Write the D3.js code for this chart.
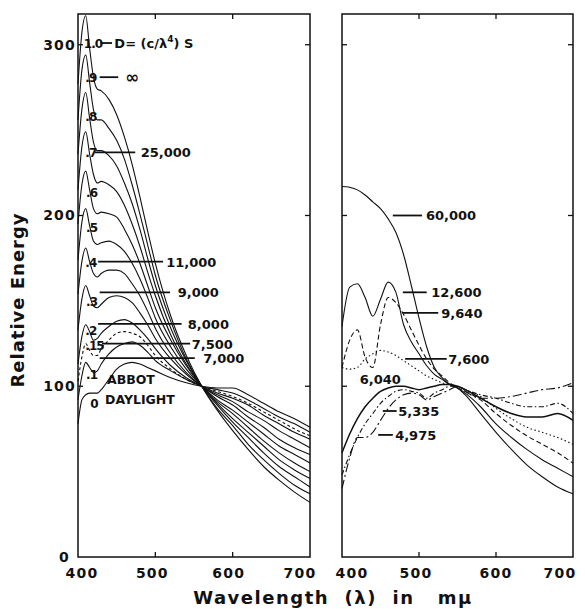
<!DOCTYPE html>
<html>
<head>
<meta charset="utf-8">
<script src="https://cdn.jsdelivr.net/npm/d3@7"></script>
<style>
  body { margin: 0; background: #fff; }
  text { font-family: "DejaVu Sans", sans-serif; font-weight: bold; fill: #111; }
</style>
</head>
<body>
<svg id="chart" width="585" height="609"></svg>
<script>
// wavelengths (m\u03bc) sampled for each panel
const wlLeft = [400, 405, 410, 415, 420, 425, 430, 440, 450, 460, 470, 480, 490, 500, 520, 540, 560, 580, 600, 620, 640, 660, 680, 700];
const wlRight = [400, 410, 420, 430, 440, 450, 460, 470, 480, 490, 500, 510, 520, 530, 540, 550, 560, 580, 600, 620, 640, 660, 680, 700];

// left panel: Abbot daylight mixed with D of (c/\u03bb^4)S
const d00 = [78, 92, 95, 96, 96, 96, 98, 104, 110, 113, 114, 113, 111, 109, 105, 102, 100, 99, 99, 95, 90, 85, 81, 76];
const d01 = [92, 106, 114, 111, 108, 109, 113, 119, 123, 125, 126, 124, 120, 115, 109, 104, 100, 98, 96, 92, 87, 82, 78, 73];
const d015 = [103, 117, 125, 121, 118, 118, 122, 127, 131, 132, 131, 129, 124, 118, 110, 104, 100, 97, 94, 90, 85, 80, 75, 71];
const d02 = [113, 129, 136, 132, 127, 128, 131, 135, 138, 139, 137, 133, 128, 122, 112, 105, 100, 96, 93, 89, 83, 78, 73, 69];
const d03 = [133, 151, 159, 153, 147, 146, 148, 152, 153, 152, 149, 143, 136, 128, 116, 107, 100, 95, 91, 85, 80, 74, 69, 64];
const d04 = [154, 173, 181, 173, 166, 164, 166, 168, 168, 166, 160, 153, 144, 134, 119, 108, 100, 94, 89, 82, 76, 69, 64, 60];
const d05 = [174, 196, 204, 194, 185, 183, 184, 185, 183, 179, 172, 163, 152, 140, 123, 110, 100, 92, 86, 79, 72, 65, 60, 55];
const d06 = [195, 218, 226, 215, 204, 201, 202, 201, 199, 192, 183, 172, 159, 146, 127, 112, 100, 91, 84, 76, 68, 61, 55, 50];
const d07 = [215, 240, 249, 236, 224, 219, 220, 218, 214, 206, 195, 182, 167, 153, 130, 113, 100, 90, 81, 73, 65, 57, 51, 46];
const d08 = [236, 262, 272, 257, 243, 238, 238, 235, 229, 219, 207, 192, 175, 159, 134, 115, 100, 89, 79, 70, 61, 53, 47, 41];
const d09 = [256, 285, 294, 278, 262, 256, 256, 251, 244, 233, 218, 201, 183, 165, 138, 116, 100, 87, 77, 66, 57, 49, 42, 37];
const d10 = [277, 307, 317, 298, 281, 274, 273, 268, 259, 246, 230, 211, 191, 172, 141, 118, 100, 86, 74, 63, 53, 45, 38, 32];

// right panel: measured daylight at colour temperatures
const r60000 = [217, 216.5, 215, 212, 208, 204, 198, 190, 177, 159, 140, 123, 111, 105, 101, 99, 95, 84, 73, 63, 54, 47, 41, 37];
const r12600 = [135, 158, 160, 152, 141, 151, 161, 155, 136, 126, 119, 112, 107, 104, 101, 99, 96, 88, 78, 70, 63, 57, 52, 47];
const r9640 = [111, 127, 133, 117, 111, 136, 152, 149, 142, 133, 124, 116, 110, 106, 102, 99, 97, 92, 84, 77, 71, 66, 61, 55];
const r7600 = [111, 110, 111, 116, 119, 121, 120, 118, 115, 112, 109, 106, 104, 102, 101, 100, 98, 94, 87, 81, 76, 73, 70, 66];
const r6040 = [61, 72, 81, 88, 93, 97, 99, 100, 100, 99, 98, 99, 100, 101, 101, 100, 98, 93, 88, 84, 82, 82, 84, 80];
const r5335 = [48, 60, 70, 78, 84, 90, 94, 97, 98, 97, 96, 93, 96, 98, 100, 100, 98, 95, 93, 90, 88, 88, 90, 84];
const r4975 = [40, 58, 70, 70, 73, 80, 87, 92, 95, 96, 95, 92, 94, 96, 98, 100, 97, 93, 93, 94, 96, 98, 99, 102];

const xTicks = [400, 500, 600, 700];
const yTicks = [0, 100, 200, 300];

const leftSeries = [
  {values: d00}, {values: d01}, {values: d015, dash: "3,2.5"}, {values: d02},
  {values: d03}, {values: d04}, {values: d05}, {values: d06},
  {values: d07}, {values: d08}, {values: d09}, {values: d10}
];
const rightSeries = [
  {values: r60000}, {values: r12600}, {values: r9640, dash: "5,3"},
  {values: r7600, dash: "1.5,2.5"}, {values: r6040, width: 1.5},
  {values: r5335, dash: "5,2.5,1.5,2.5"}, {values: r4975, dash: "9,3,2,3"}
];

// annotations (wavelength, energy)
const leftMarks = [
  ["1.0", 407.5, 301], [".9", 409.5, 281], [".8", 409.5, 258], [".7", 409.5, 237],
  [".6", 410.5, 214], [".5", 410.5, 193], [".4", 409.5, 173], [".3", 410.5, 150],
  [".2", 409.5, 133], [".15", 409.5, 124], [".1", 410.5, 107], ["0", 416, 90]
];
const leftLeaders = [
  {from: 429, to: 444, v: 301, text: "formula", at: 447},
  {from: 428, to: 452, v: 281, text: "\u221e", at: 461},
  {from: 422, to: 474, v: 237, text: "25,000", at: 481},
  {from: 426, to: 510, v: 173, text: "11,000", at: 514},
  {from: 428, to: 519, v: 155, text: "9,000", at: 529},
  {from: 426, to: 534, v: 136.5, text: "8,000", at: 542},
  {from: 431, to: 545, v: 125, text: "7,500", at: 547},
  {from: 428, to: 551, v: 116.5, text: "7,000", at: 562}
];
const rightLeaders = [
  {from: 466, to: 504, v: 200, text: "60,000", at: 509},
  {from: 479, to: 510, v: 155, text: "12,600", at: 516},
  {from: 479, to: 525, v: 143, text: "9,640", at: 529},
  {from: 482, to: 536, v: 116, text: "7,600", at: 538},
  {from: 453, to: 471, v: 85.5, text: "5,335", at: 473},
  {from: 447, to: 466, v: 71.5, text: "4,975", at: 469}
];

const svg = d3.select("#chart");
const y = d3.scaleLinear().domain([0, 318]).range([557, 14]);
const xLeft = d3.scaleLinear().domain([400, 700]).range([78, 310]);
const xRight = d3.scaleLinear().domain([400, 700]).range([342, 573]);

function drawPanel(x, wl, series, tickShift) {
  const g = svg.append("g");
  const x0 = x(400), x1 = x(700), yb = y(0), yt = y(318);

  const line = d3.line()
    .x((d, i) => x(wl[i]))
    .y(d => y(d))
    .curve(d3.curveMonotoneX);

  g.selectAll("path.curve")
    .data(series)
    .join("path")
      .attr("class", "curve")
      .attr("d", d => line(d.values))
      .attr("fill", "none")
      .attr("stroke", "#111")
      .attr("stroke-width", d => d.width || 1.1)
      .attr("stroke-dasharray", d => d.dash || null);

  g.append("rect")
    .attr("x", x0).attr("y", yt)
    .attr("width", x1 - x0).attr("height", yb - yt)
    .attr("fill", "none").attr("stroke", "#111").attr("stroke-width", 1.5);

  // inward ticks on all sides
  [500, 600].forEach(t => {
    g.append("line").attr("x1", x(t)).attr("x2", x(t)).attr("y1", yb).attr("y2", yb - 5).attr("stroke", "#111").attr("stroke-width", 1.3);
    g.append("line").attr("x1", x(t)).attr("x2", x(t)).attr("y1", yt).attr("y2", yt + 5).attr("stroke", "#111").attr("stroke-width", 1.3);
  });
  [100, 200, 300].forEach(t => {
    g.append("line").attr("x1", x0).attr("x2", x0 + 5).attr("y1", y(t)).attr("y2", y(t)).attr("stroke", "#111").attr("stroke-width", 1.3);
    g.append("line").attr("x1", x1).attr("x2", x1 - 5).attr("y1", y(t)).attr("y2", y(t)).attr("stroke", "#111").attr("stroke-width", 1.3);
  });

  g.selectAll("text.xtick")
    .data(xTicks)
    .join("text")
      .attr("class", "xtick")
      .attr("x", (d, i) => x(d) + tickShift[i])
      .attr("y", 578)
      .attr("text-anchor", "middle")
      .attr("font-size", 14)
      .attr("letter-spacing", 1.2)
      .text(d => d);
  return g;
}

const gl = drawPanel(xLeft, wlLeft, leftSeries, [4, -3, -4, -10]);
const gr = drawPanel(xRight, wlRight, rightSeries, [10, -3, 0, -13]);

// y tick labels
svg.selectAll("text.ytick")
  .data(yTicks)
  .join("text")
    .attr("class", "ytick")
    .attr("x", d => d === 0 ? 70 : 76)
    .attr("y", d => y(d) + 5)
    .attr("text-anchor", "end")
    .attr("font-size", 14)
    .attr("letter-spacing", 1.2)
    .text(d => d);

function leader(g, x, d) {
  g.append("line")
    .attr("x1", x(d.from)).attr("x2", x(d.to))
    .attr("y1", y(d.v)).attr("y2", y(d.v))
    .attr("stroke", "#111").attr("stroke-width", 1.8);
  const t = g.append("text")
    .attr("x", x(d.at)).attr("y", y(d.v) + 5)
    .attr("font-size", 13);
  if (d.text === "formula") {
    t.append("tspan").text("D= (c/\u03bb");
    t.append("tspan").attr("dy", -6).attr("font-size", 9).text("4");
    t.append("tspan").attr("dy", 6).text(") S");
  } else if (d.text === "\u221e") {
    t.attr("font-size", 17).attr("y", y(d.v) + 6).text(d.text);
  } else {
    t.text(d.text);
  }
}

leftLeaders.forEach(d => leader(gl, xLeft, d));
rightLeaders.forEach(d => leader(gr, xRight, d));

gl.selectAll("text.dlabel")
  .data(leftMarks)
  .join("text")
    .attr("class", "dlabel")
    .attr("x", d => xLeft(d[1]))
    .attr("y", d => y(d[2]) + 5)
    .attr("font-size", 12)
    .attr("letter-spacing", -1)
    .text(d => d[0]);

gl.append("text").attr("x", xLeft(437.5)).attr("y", y(104) + 5).attr("font-size", 12.5).text("ABBOT");
gl.append("text").attr("x", xLeft(435)).attr("y", y(92.5) + 5).attr("font-size", 12.5).text("DAYLIGHT");
gr.append("text").attr("x", xRight(423)).attr("y", y(104) + 5).attr("font-size", 13).text("6,040");

// axis titles
svg.append("text")
  .attr("transform", "translate(24,300) rotate(-90)")
  .attr("text-anchor", "middle")
  .attr("font-size", 18)
  .attr("letter-spacing", 1)
  .text("Relative  Energy");

svg.append("text")
  .attr("x", 333).attr("y", 604)
  .attr("text-anchor", "middle")
  .attr("font-size", 18)
  .attr("letter-spacing", 1.5)
  .attr("xml:space", "preserve")
  .text("Wavelength  (\u03bb)  in   m\u03bc");
</script>
</body>
</html>
